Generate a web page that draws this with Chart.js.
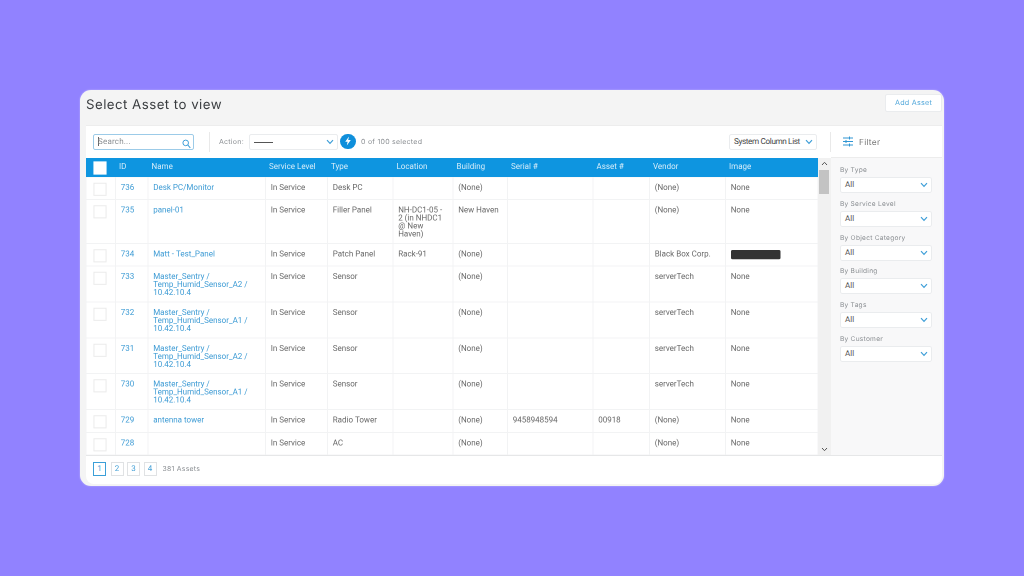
<!DOCTYPE html>
<html><head><meta charset="utf-8">
<script src="https://cdn.jsdelivr.net/npm/chart.js@4"></script>
<style>
html,body{margin:0;padding:0;width:1024px;height:576px;overflow:hidden;background:#9182ff;}
*{box-sizing:border-box}
body{text-rendering:geometricPrecision}
#wrap{position:absolute;left:0;top:0;width:1024px;height:576px;filter:blur(.3px)}
.a{position:absolute;white-space:nowrap}
#card{left:80px;top:90px;width:864px;height:396px;background:#f4f4f4;border-radius:11px;box-shadow:0 0 2px rgba(255,255,255,.45)}
#panel{left:86px;top:125px;width:856px;height:359px;background:#fff;border-radius:0 0 8px 8px;border-top:1px solid #ededed}
.ui{font-family:Inter,sans-serif;color:#8b8f93;font-size:7px;letter-spacing:.25px}
.rb{font-family:Roboto,sans-serif;color:#666;font-size:8px}
.box{background:#fff;border:1px solid #eaecee;border-radius:2px}
.pg{top:462px;width:13px;height:14px;background:#fff;border:1px solid #e0e2e4;color:#4aa3d8;font:8px/12px Roboto,sans-serif;text-align:center}
canvas{position:absolute;left:86px;top:158px}
</style></head><body>
<div id="wrap">
<div class="a" id="card"></div>
<div class="a" id="panel"></div>
<div class="a" id="title" style="left:86px;top:95.5px;font:13.3px/18px Inter,sans-serif;letter-spacing:.45px;color:#3a3d40">Select Asset to view</div>
<div class="a box" style="left:885px;top:94px;width:57px;height:18px"></div>
<div class="a ui" style="left:895px;top:98px;color:#55a9db;font-size:7.2px;line-height:10px">Add Asset</div>

<div class="a box" style="left:93px;top:134px;width:101px;height:16px;border-color:#9ccbe8"></div>
<div class="a" style="left:97.5px;top:137px;width:1px;height:9px;background:#666"></div>
<div class="a rb" style="left:98px;top:137px;font-size:8px;line-height:10px;color:#8d9194;letter-spacing:.2px">Search...</div>
<svg class="a" style="left:182px;top:139px" width="9" height="10" viewBox="0 0 9 10"><circle cx="3.7" cy="3.9" r="2.8" fill="none" stroke="#3f9fd8" stroke-width="1"/><line x1="5.8" y1="6" x2="8.3" y2="8.8" stroke="#3f9fd8" stroke-width="1.1"/></svg>
<div class="a" style="left:209px;top:132px;width:1px;height:20px;background:#e9e9e9"></div>
<div class="a ui" style="left:219px;top:136.5px;line-height:10px">Action:</div>
<div class="a box" style="left:249px;top:134px;width:89px;height:16px"></div>
<div class="a" style="left:254px;top:141.5px;width:19px;height:1px;background:#555"></div>
<div class="a" style="left:340px;top:133.5px;width:15.5px;height:15.5px;border-radius:50%;background:#0f8fdb"></div>
<svg class="a" style="left:344px;top:136px" width="8" height="10" viewBox="0 0 8 10"><polygon points="5,0.5 1.2,5.7 3.6,5.7 2.8,9.5 6.8,4 4.2,4" fill="#fff"/></svg>
<div class="a ui" style="left:361px;top:136.5px;line-height:10px">0 of 100 selected</div>

<div class="a box" style="left:729px;top:134px;width:88px;height:16px"></div>
<div class="a rb" style="left:734px;top:137px;line-height:10px;font-size:8.2px;letter-spacing:-.38px;color:#444">System Column List</div>
<div class="a" style="left:830px;top:132px;width:1px;height:20px;background:#e9e9e9"></div>
<svg class="a" style="left:842px;top:136px" width="12" height="11" viewBox="0 0 12 11" stroke="#2f95d3" stroke-width="1"><path d="M1 2h10M1 5.5h10M1 9h10" /><path d="M7.5 .5v3M4 4v3M7.5 7.5v3"/></svg>
<div class="a ui" id="ft" style="left:859px;top:137.5px;font-size:8.4px;line-height:11px;color:#777">Filter</div>

<div class="a" style="left:818px;top:158px;width:13px;height:297px;background:#f1f1f1"></div>
<div class="a" style="left:819px;top:170px;width:10px;height:24px;background:#c3c3c3"></div>
<div class="a" style="left:831px;top:157px;width:111px;height:298px;background:#f8f8f9;border-top:1px solid #ececec"></div>
<div class="a" style="left:86px;top:455px;width:856px;height:1px;background:#e6e7e8"></div>
<div id="filters"></div>
<canvas id="c" style="width:732px;height:297px"></canvas>
<div id="pages"></div>
<div class="a ui" style="left:162.5px;top:464px;line-height:10px;font-size:6.9px">381 Assets</div>
</div>

<script>
// ---- table content ----
const headers = ["ID","Name","Service Level","Type","Location","Building","Serial #","Asset #","Vendor","Image"];
const ids = ["736","735","734","733","732","731","730","729","728"];
const names = ["Desk PC/Monitor","panel-01","Matt - Test_Panel",
  "Master_Sentry /\nTemp_Humid_Sensor_A2 /\n10.42.10.4","Master_Sentry /\nTemp_Humid_Sensor_A1 /\n10.42.10.4",
  "Master_Sentry /\nTemp_Humid_Sensor_A2 /\n10.42.10.4","Master_Sentry /\nTemp_Humid_Sensor_A1 /\n10.42.10.4","antenna tower",""];
const serviceLevels = ["In Service","In Service","In Service","In Service","In Service","In Service","In Service","In Service","In Service"];
const types = ["Desk PC","Filler Panel","Patch Panel","Sensor","Sensor","Sensor","Sensor","Radio Tower","AC"];
const locations = ["","NH-DC1-05 -\n2 (in NHDC1\n@ New\nHaven)","Rack-91","","","","","",""];
const buildings = ["(None)","New Haven","(None)","(None)","(None)","(None)","(None)","(None)","(None)"];
const serials = ["","","","","","","","9458948594",""];
const assetTags = ["","","","","","","","00918",""];
const vendors = ["(None)","(None)","Black Box Corp.","serverTech","serverTech","serverTech","serverTech","(None)","(None)"];
const images = ["None","None","","None","None","None","None","None","None"];
const filterLabels = ["By Type","By Service Level","By Object Category","By Building","By Tags","By Customer"];
const pages = ["1","2","3","4"];
// ---- grid layout, in scale units ----
const colEdges = [0,29.5,62,179.5,241.5,307,367,421.5,507,563.5,639.5,732];
const rowEdges = [0,19,41.5,85.5,108,144,180,215.5,251.5,274.5,297];
const colors = {link:"#3b9ad4",text:"#666",head:"#0e95e0",line:"#f2f3f4"};

const columns = [ids,names,serviceLevels,types,locations,buildings,serials,assetTags,vendors,images];
const rowTop = rowEdges.slice(1,-1);
const textY = i => rowTop[i] + 10.8;
const cellSets = columns.map((col,c)=>({
  label: headers[c], text: col, isLink: c<2, pointRadius:0, pointHoverRadius:0,
  data: col.map((_,i)=>({x: colEdges[c+1]+5.2, y: textY(i)}))
}));
const checkSet = {
  label:"select", pointStyle:"rect", pointRadius:8.6, pointBorderWidth:1,
  pointBackgroundColor:"#fff", pointBorderColor:"#ebebeb",
  data: ids.map((_,i)=>({x:14, y:rowTop[i]+12.3}))
};
const headCheck = {label:"select all",pointStyle:"rect",pointRadius:8.6,pointBackgroundColor:"#fff",pointBorderColor:"#fff",data:[{x:14,y:10}]};

const tablePlugin = {
  id:"table",
  beforeDatasetsDraw(ch){
    const {ctx,scales:{x,y}} = ch;
    ctx.save();
    ctx.fillStyle = colors.head;
    ctx.fillRect(x.getPixelForValue(0),y.getPixelForValue(0),x.getPixelForValue(732)-x.getPixelForValue(0),y.getPixelForValue(19));
    ctx.restore();
  },
  afterDatasetsDraw(ch){
    const {ctx,scales:{x,y}} = ch;
    ctx.save();
    ctx.textBaseline="middle";
    ctx.font="8px Roboto";
    ch.data.datasets.forEach((ds,di)=>{
      if(!ds.text) return;
      const meta = ch.getDatasetMeta(di);
      ctx.fillStyle = "rgba(255,255,255,.85)";
      ctx.fillText(ds.label, x.getPixelForValue(colEdges[di+1]+3.5), y.getPixelForValue(9));
      ctx.fillStyle = ds.isLink ? colors.link : colors.text;
      ds.text.forEach((t,i)=>{
        const p = meta.data[i];
        String(t).split("\n").forEach((ln,k)=>ctx.fillText(ln,p.x,p.y+k*8.1));
      });
    });
    // redacted image in the row of asset 734
    ctx.fillStyle="#333";
    ctx.beginPath();
    ctx.roundRect(x.getPixelForValue(645),y.getPixelForValue(92),x.getPixelForValue(694.5)-x.getPixelForValue(645),y.getPixelForValue(101.3)-y.getPixelForValue(92),1.5);
    ctx.fill();
    ctx.restore();
  }
};

const edgeAxis = (edges,max,reverse)=>({
  type:"linear",min:0,max,reverse,display:true,
  border:{display:false},
  ticks:{display:false},
  grid:{color:colors.line,lineWidth:1,drawTicks:false},
  afterBuildTicks(a){a.ticks = edges.map(v=>({value:v}));},
  afterFit(a){ if(a.isHorizontal()) a.height=0; else a.width=0; }
});

const canvas=document.getElementById("c");
canvas.width=732;canvas.height=297;
new Chart(canvas,{
  type:"scatter",
  data:{datasets:[...cellSets,checkSet,headCheck]},
  options:{
    responsive:false,animation:false,devicePixelRatio:2,
    layout:{padding:0,autoPadding:false},
    plugins:{legend:{display:false},tooltip:{enabled:false},title:{display:false}},
    scales:{x:edgeAxis(colEdges,732,false),y:edgeAxis(rowEdges,297,true)},
    events:[]
  },
  plugins:[tablePlugin]
});

// ---- chrome ----
const chev = (x,y,col="#3f9fd8")=>`<svg class="a" style="left:${x}px;top:${y}px" width="8" height="6" viewBox="0 0 8 6"><polyline points="1,1.2 4,4.4 7,1.2" fill="none" stroke="${col}" stroke-width="1.2"/></svg>`;
let f="";
const labelTops=[165.5,199.5,233.5,267,301,334.5];
const selTops=[177,211,244.5,278,312,346];
filterLabels.forEach((l,i)=>{
  f+=`<div class="a ui" style="left:840px;top:${labelTops[i]}px;line-height:9px;font-size:6.6px">${l}</div>`;
  f+=`<div class="a box" style="left:840px;top:${selTops[i]}px;width:92px;height:16px"></div>`;
  f+=`<div class="a rb" style="left:845px;top:${selTops[i]+3}px;line-height:10px;color:#555">All</div>`;
  f+=chev(920,selTops[i]+5);
});
f+=chev(326,139)+chev(805,139);
// scrollbar arrows
f+=`<svg class="a" style="left:821px;top:161px" width="7" height="5" viewBox="0 0 7 5"><polyline points="1,4 3.5,1.3 6,4" fill="none" stroke="#555" stroke-width="1"/></svg>`;
f+=`<svg class="a" style="left:821px;top:447px" width="7" height="5" viewBox="0 0 7 5"><polyline points="1,1 3.5,3.7 6,1" fill="none" stroke="#555" stroke-width="1"/></svg>`;
document.getElementById("filters").innerHTML=f;
const pageLeft=[93,110.5,127,143.5];
document.getElementById("pages").innerHTML=pages.map((p,i)=>`<div class="a pg" style="left:${pageLeft[i]}px;${i===0?'border:1.5px solid #3b9fd8;':''}">${p}</div>`).join("");
</script>
</body></html>
